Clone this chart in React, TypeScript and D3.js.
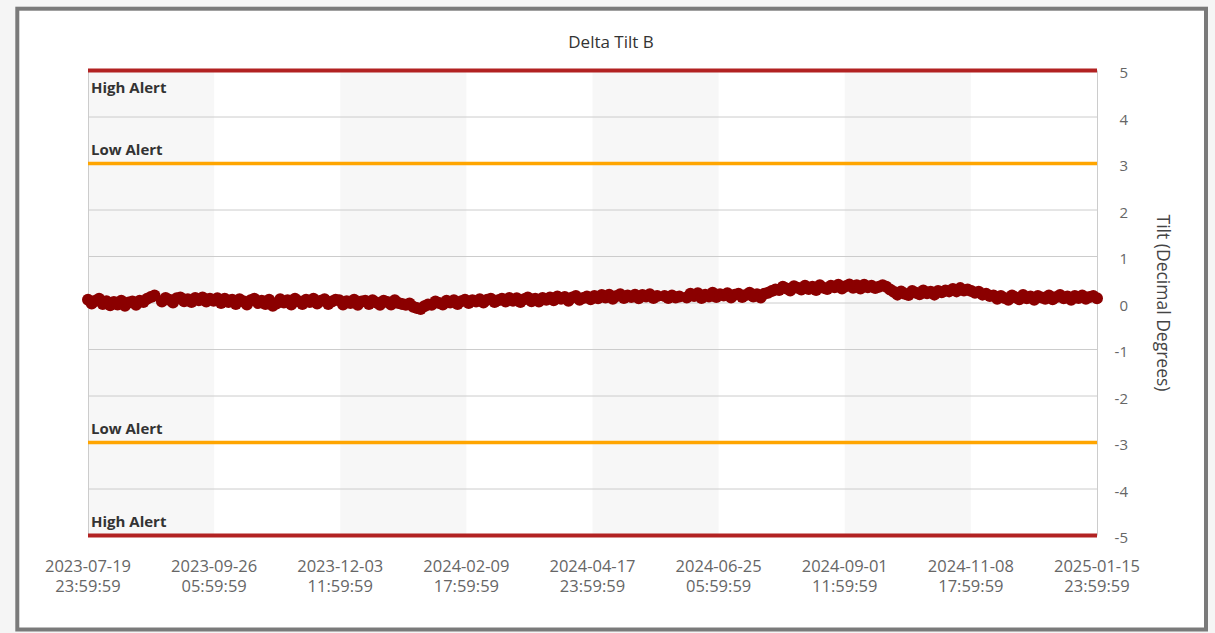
import React from "react";
import * as d3 from "d3";

const TITLE = "Delta Tilt B";
const Y_TITLE = "Tilt (Decimal Degrees)";
const X_TICKS = [
  "2023-07-19 23:59:59",
  "2023-09-26 05:59:59",
  "2023-12-03 11:59:59",
  "2024-02-09 17:59:59",
  "2024-04-17 23:59:59",
  "2024-06-25 05:59:59",
  "2024-09-01 11:59:59",
  "2024-11-08 17:59:59",
  "2025-01-15 23:59:59",
];
const Y_TICKS = [5, 4, 3, 2, 1, 0, -1, -2, -3, -4, -5];
const ALERT_VALUES = [5, 3, -3, -5];
const ALERT_LABELS = ["High Alert", "Low Alert", "Low Alert", "High Alert"];
const ALERT_LEVELS = ["high", "low", "low", "high"];

// series: one reading every 2 days starting 2023-07-20
const DATA_START = "2023-07-20 00:00:00";
const DATA_STEP_DAYS = 2;
const TILT_VALUES: (number | null)[] = [
  0.07, -0.01, 0.05, 0.09, -0.02,
  0.04, -0.05, 0.02, -0.03, 0.05, -0.06, 0.01, 0.03, -0.04,
  0.05, 0.02, 0.09, 0.13, 0.16,
  null,
  0.03, 0.11, 0.07, 0.01, 0.10, 0.12, 0.04, 0.08, 0.02, 0.11, 0.06, 0.12, 0.03, 0.09, 0.05, 0.10,
  0.00, 0.09, 0.02, 0.07,
  -0.02, 0.08, 0.04, -0.03, 0.06, 0.09, 0.00, 0.05, -0.02, 0.07,
  -0.06, -0.01,
  0.08, 0.01, 0.06, -0.03, 0.09, 0.04, -0.02, 0.07, 0.02, 0.09, -0.01, 0.05, 0.08, -0.02, 0.03, 0.07,
  0.06, -0.03, 0.04, 0.00, 0.07, -0.04, 0.03, 0.05, -0.02, 0.06, 0.01, -0.04, 0.05, 0.02, -0.03, 0.06, 0.00, -0.02,
  -0.04, -0.01, -0.08, -0.11, -0.13, -0.07, -0.03,
  -0.04, 0.03, 0.00, -0.03, 0.05, 0.01, 0.06, -0.02, 0.04, 0.07, 0.00, 0.06, 0.03, 0.08, 0.01, 0.07, 0.09, 0.02, 0.06, 0.09,
  0.03, 0.11, 0.05, 0.10, 0.02, 0.08, 0.12, 0.04, 0.09, 0.03, 0.11, 0.07, 0.12,
  0.06, 0.14, 0.09, 0.13, 0.05, 0.12, 0.15, 0.07, 0.11, 0.14, 0.08, 0.15,
  0.10, 0.17, 0.12, 0.18, 0.09, 0.15, 0.19, 0.11, 0.16, 0.13, 0.18, 0.10, 0.17, 0.14, 0.19, 0.11, 0.15,
  null,
  0.15, 0.11, 0.16, 0.12, 0.14,
  null,
  0.12, 0.20, 0.15, 0.21, 0.11, 0.18, 0.14, 0.22, 0.13, 0.19, 0.16, 0.21, 0.12, 0.18, 0.20, 0.13, 0.17, 0.22, 0.14, 0.19, 0.12, 0.20,
  0.22, 0.26, 0.29,
  0.28, 0.35, 0.31, 0.27, 0.36, 0.33, 0.29, 0.37, 0.30, 0.35, 0.28, 0.38, 0.33, 0.30, 0.37, 0.34, 0.39, 0.31, 0.36, 0.40, 0.33, 0.38,
  0.31, 0.39, 0.34, 0.37, 0.32, 0.35,
  0.38, 0.35,
  0.29, 0.24,
  0.18, 0.25, 0.20, 0.17, 0.26, 0.22, 0.19, 0.27, 0.21, 0.24, 0.18, 0.26, 0.23, 0.27, 0.25,
  0.30, 0.25, 0.32, 0.27, 0.29,
  0.26, 0.22, 0.24, 0.18, 0.20, 0.15, 0.16,
  0.09, 0.15, 0.11, 0.07, 0.16, 0.12, 0.08, 0.17, 0.10, 0.14, 0.07, 0.15, 0.12, 0.09, 0.16, 0.08, 0.13, 0.17, 0.10, 0.14, 0.07, 0.15, 0.11, 0.16, 0.09, 0.13, 0.15, 0.10,
];

const W = 1215;
const H = 633;
const PLOT = { left: 88, right: 1097, top: 70.5, bottom: 535.5 };
const FONT = "'Segoe UI', 'Open Sans', 'Noto Sans', sans-serif";

export default function App() {
  const parse = d3.utcParse("%Y-%m-%d %H:%M:%S");
  const tickDates = X_TICKS.map((t) => parse(t) as Date);
  const x = d3
    .scaleUtc()
    .domain([tickDates[0], tickDates[tickDates.length - 1]])
    .range([PLOT.left, PLOT.right]);
  const y = d3.scaleLinear().domain([-5, 5]).range([PLOT.bottom, PLOT.top]);

  const start = parse(DATA_START) as Date;
  const points = TILT_VALUES.map((v, i) => ({
    date: d3.utcDay.offset(start, i * DATA_STEP_DAYS),
    value: v,
  })).filter((p) => p.value !== null) as { date: Date; value: number }[];

  const bands = tickDates.slice(0, -1).map((d, i) => ({
    x0: x(d),
    x1: x(tickDates[i + 1]),
    shaded: i % 2 === 0,
  }));

  return (
    <>
      <style>{`body{margin:0;overflow:hidden;}`}</style>
      <svg width={W} height={H} style={{ display: "block", fontFamily: FONT }}>
        <rect x={0} y={0} width={W} height={H} fill="#f5f5f5" />
        <rect x={17.3} y={8.7} width={1188.7} height={620.8} fill="#ffffff" stroke="#7a7a7a" strokeWidth={4} />

        <text x={611} y={48} textAnchor="middle" fontSize={17} fill="#333333">
          {TITLE}
        </text>

        {bands.map((b, i) =>
          b.shaded ? (
            <rect key={"b" + i} x={b.x0} y={PLOT.top} width={b.x1 - b.x0} height={PLOT.bottom - PLOT.top} fill="#f7f7f7" />
          ) : null
        )}

        {Y_TICKS.map((t) => (
          <line key={"g" + t} x1={PLOT.left} x2={PLOT.right} y1={y(t)} y2={y(t)} stroke="#cccccc" strokeWidth={1} />
        ))}
        <line x1={PLOT.left + 0.5} x2={PLOT.left + 0.5} y1={PLOT.top} y2={PLOT.bottom} stroke="#cccccc" strokeWidth={1} />
        <line x1={PLOT.right + 0.5} x2={PLOT.right + 0.5} y1={PLOT.top} y2={PLOT.bottom} stroke="#cccccc" strokeWidth={1} />

        {ALERT_VALUES.map((v, i) => (
          <line
            key={"a" + i}
            x1={PLOT.left}
            x2={PLOT.right}
            y1={y(v)}
            y2={y(v)}
            stroke={ALERT_LEVELS[i] === "high" ? "#b22222" : "#ffa500"}
            strokeWidth={ALERT_LEVELS[i] === "high" ? 4 : 3.5}
          />
        ))}
        {ALERT_VALUES.map((v, i) => (
          <text
            key={"al" + i}
            x={PLOT.left + 3}
            y={v === 5 ? y(v) + 22 : y(v) - 9}
            fontSize={15}
            fontWeight="bold"
            fill="#333333"
          >
            {ALERT_LABELS[i]}
          </text>
        ))}

        <g>
          {points.map((p, i) => (
            <circle key={"p" + i} cx={x(p.date)} cy={y(p.value)} r={6} fill="#8b0000" />
          ))}
        </g>

        {Y_TICKS.map((t) => (
          <text key={"yl" + t} x={1128} y={y(t) + 7.5} textAnchor="end" fontSize={15} fill="#666666">
            {t}
          </text>
        ))}
        <text
          transform={`translate(1164, ${(PLOT.top + PLOT.bottom) / 2}) rotate(90)`}
          textAnchor="middle"
          dominantBaseline="central"
          fontSize={17.5}
          fill="#444444"
        >
          {Y_TITLE}
        </text>

        {X_TICKS.map((t, i) => {
          const [dPart, tPart] = t.split(" ");
          const cx = x(tickDates[i]);
          return (
            <g key={"xl" + i}>
              <text x={cx} y={571.5} textAnchor="middle" fontSize={16.5} fill="#666666">
                {dPart}
              </text>
              <text x={cx} y={592} textAnchor="middle" fontSize={16.5} fill="#666666">
                {tPart}
              </text>
            </g>
          );
        })}
      </svg>
    </>
  );
}
